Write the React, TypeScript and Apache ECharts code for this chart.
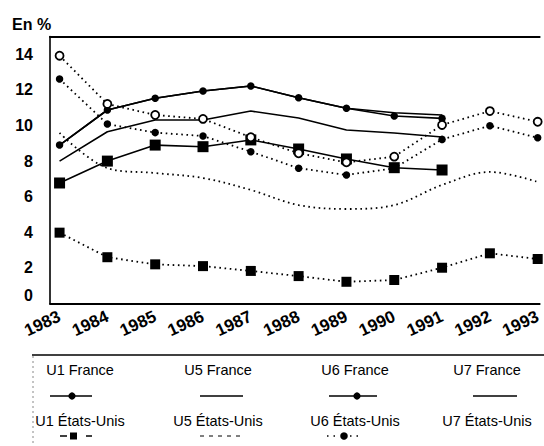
import React, { useEffect, useRef } from "react";
import * as echarts from "echarts";

const years = [1983, 1984, 1985, 1986, 1987, 1988, 1989, 1990, 1991, 1992, 1993];
const yTicks = [0, 2, 4, 6, 8, 10, 12, 14];

const u1France = [6.77, 8.0, 8.9, 8.81, 9.19, 8.68, 8.12, 7.63, 7.5];
const u5France = [8.0, 9.65, 10.31, 10.31, 10.81, 10.42, 9.75, 9.58, 9.35];
const u6France = [8.9, 10.87, 11.53, 11.94, 12.22, 11.56, 10.97, 10.53, 10.4];
const u7France = [8.9, 10.87, 11.53, 11.94, 12.22, 11.56, 10.97, 10.72, 10.59];

const u1US = [3.98, 2.6, 2.2, 2.1, 1.83, 1.54, 1.22, 1.32, 2.01, 2.82, 2.5];
const u5US = [9.58, 7.61, 7.33, 7.05, 6.38, 5.53, 5.31, 5.53, 6.66, 7.39, 6.83];
const u6US = [12.61, 10.08, 9.6, 9.41, 8.53, 7.6, 7.22, 7.6, 9.22, 9.99, 9.31];
const u7US = [13.92, 11.21, 10.59, 10.37, 9.34, 8.44, 7.93, 8.25, 10.03, 10.81, 10.21];

const legendNames = [
  "U1 France", "U5 France", "U6 France", "U7 France",
  "U1 États-Unis", "U5 États-Unis", "U6 États-Unis", "U7 États-Unis",
];

const FONT = '"Liberation Sans", Arial, Helvetica, sans-serif';
const INK = "#000";

const pairs = (vals: number[]) => vals.map((v, i) => [years[i], v]);

export default function App() {
  const ref = useRef<HTMLDivElement>(null);

  useEffect(() => {
    document.body.style.margin = "0";
    const chart = echarts.init(ref.current!, null, { renderer: "svg" });

    const solid = { color: INK, width: 1.6, type: "solid" as const };
    const dotted = { color: INK, width: 1.8, type: [1.6, 3.6] as any, cap: "butt" as const };

    const textCentersX = [80, 218, 355, 487];
    const rowTextY = [370, 421];
    const symY = [396, 436];
    const legendGraphics: any[] = [];
    legendNames.forEach((name, i) => {
      const col = i % 4;
      const row = Math.floor(i / 4);
      legendGraphics.push({
        type: "text",
        x: textCentersX[col],
        y: rowTextY[row],
        style: {
          text: name,
          fill: INK,
          font: `14.5px ${FONT}`,
          align: "center",
          verticalAlign: "middle",
        },
      });
    });
    const ls = { stroke: INK, lineWidth: 1.5 };
    legendGraphics.push({ type: "line", shape: { x1: 50, y1: symY[0], x2: 92, y2: symY[0] }, style: ls });
    legendGraphics.push({ type: "circle", shape: { cx: 72, cy: symY[0], r: 3.6 }, style: { fill: INK } });
    legendGraphics.push({ type: "line", shape: { x1: 200, y1: symY[0], x2: 243, y2: symY[0] }, style: ls });
    legendGraphics.push({ type: "line", shape: { x1: 329, y1: symY[0], x2: 377, y2: symY[0] }, style: ls });
    legendGraphics.push({ type: "circle", shape: { cx: 357, cy: symY[0], r: 3.6 }, style: { fill: INK } });
    legendGraphics.push({ type: "line", shape: { x1: 473, y1: symY[0], x2: 517, y2: symY[0] }, style: ls });
    legendGraphics.push({ type: "line", shape: { x1: 60, y1: symY[1], x2: 67, y2: symY[1] }, style: ls });
    legendGraphics.push({ type: "rect", shape: { x: 70, y: symY[1] - 3.5, width: 7, height: 7 }, style: { fill: INK } });
    legendGraphics.push({ type: "line", shape: { x1: 86, y1: symY[1], x2: 92, y2: symY[1] }, style: ls });
    legendGraphics.push({
      type: "line",
      shape: { x1: 200, y1: symY[1], x2: 241, y2: symY[1] },
      style: { stroke: INK, lineWidth: 1, lineDash: [4, 5] },
    });
    legendGraphics.push({
      type: "line",
      shape: { x1: 327, y1: symY[1], x2: 338, y2: symY[1] },
      style: { stroke: INK, lineWidth: 1.5, lineDash: [1.5, 5] },
    });
    legendGraphics.push({ type: "circle", shape: { cx: 344, cy: symY[1], r: 3.8 }, style: { fill: INK } });
    legendGraphics.push({
      type: "line",
      shape: { x1: 350, y1: symY[1], x2: 360, y2: symY[1] },
      style: { stroke: INK, lineWidth: 1.5, lineDash: [1.5, 5] },
    });
    legendGraphics.push({ type: "line", shape: { x1: 32, y1: 355, x2: 544, y2: 355 }, style: { stroke: INK, lineWidth: 1.5 } });
    legendGraphics.push({
      type: "line",
      shape: { x1: 33, y1: 356, x2: 33, y2: 446 },
      style: { stroke: "#888", lineWidth: 1, lineDash: [2, 3] },
    });
    legendGraphics.push({
      type: "text",
      x: 12,
      y: 24,
      style: { text: "En %", fill: INK, font: `bold 16px ${FONT}`, verticalAlign: "middle" },
    });

    const xMin = 1982.8;
    const xMax = 1993.04;

    chart.setOption({
      animation: false,
      backgroundColor: "#fff",
      grid: { left: 50, right: 0, top: 36.5, bottom: 142.5, containLabel: false },
      xAxis: [
        {
          type: "value",
          min: xMin,
          max: xMax,
          interval: 0.2,
          axisLine: { show: true, lineStyle: { color: INK, width: 2 } },
          axisTick: { show: false },
          splitLine: { show: false },
          axisLabel: {
            rotate: 25,
            margin: 12,
            color: INK,
            fontSize: 17,
            fontWeight: "bold",
            fontFamily: FONT,
            showMinLabel: false,
            showMaxLabel: false,
            formatter: (v: number) => {
              const r = Math.round(v);
              return Math.abs(v - r) < 1e-6 && years.includes(r) ? String(r) : "";
            },
          },
        },
        {
          type: "value",
          position: "top",
          min: xMin,
          max: xMax,
          axisLine: { show: true, lineStyle: { color: INK, width: 2 } },
          axisTick: { show: false },
          axisLabel: { show: false },
          splitLine: { show: false },
        },
      ],
      yAxis: {
        type: "value",
        min: yTicks[0],
        max: 15,
        interval: 2,
        axisLine: { show: true, lineStyle: { color: INK, width: 1.6 } },
        axisTick: { show: false },
        splitLine: { show: false },
        axisLabel: {
          margin: 17,
          color: INK,
          fontSize: 16,
          fontWeight: "bold",
          fontFamily: FONT,
          showMaxLabel: false,
          verticalAlignMinLabel: "bottom",
          formatter: (v: number) => (yTicks.includes(v) ? String(v) : ""),
        },
      },
      series: [
        {
          name: "U5 États-Unis",
          type: "line",
          data: pairs(u5US),
          showSymbol: false,
          symbol: "none",
          smooth: 0.35,
          lineStyle: dotted,
          z: 2,
        },
        {
          name: "U6 États-Unis",
          type: "line",
          data: pairs(u6US),
          symbol: "circle",
          symbolSize: 7.5,
          itemStyle: { color: INK },
          lineStyle: dotted,
          z: 3,
        },
        {
          name: "U1 États-Unis",
          type: "line",
          data: pairs(u1US),
          symbol: "rect",
          symbolSize: 10,
          itemStyle: { color: INK },
          lineStyle: dotted,
          z: 3,
        },
        {
          name: "U5 France",
          type: "line",
          data: pairs(u5France),
          symbol: "none",
          lineStyle: solid,
          z: 4,
        },
        {
          name: "U7 France",
          type: "line",
          data: pairs(u7France),
          symbol: "none",
          lineStyle: solid,
          z: 4,
        },
        {
          name: "U6 France",
          type: "line",
          data: pairs(u6France),
          symbol: "circle",
          symbolSize: 7.5,
          itemStyle: { color: INK },
          lineStyle: solid,
          z: 5,
        },
        {
          name: "U1 France",
          type: "line",
          data: pairs(u1France),
          symbol: "rect",
          symbolSize: 11,
          itemStyle: { color: INK },
          lineStyle: solid,
          z: 5,
        },
        {
          name: "U7 États-Unis",
          type: "line",
          data: pairs(u7US),
          symbol: "circle",
          symbolSize: 8,
          itemStyle: { color: "#fff", borderColor: INK, borderWidth: 1.8 },
          lineStyle: dotted,
          z: 6,
        },
      ],
      graphic: legendGraphics,
    });

    return () => chart.dispose();
  }, []);

  return <div ref={ref} style={{ width: 544, height: 446 }} />;
}
